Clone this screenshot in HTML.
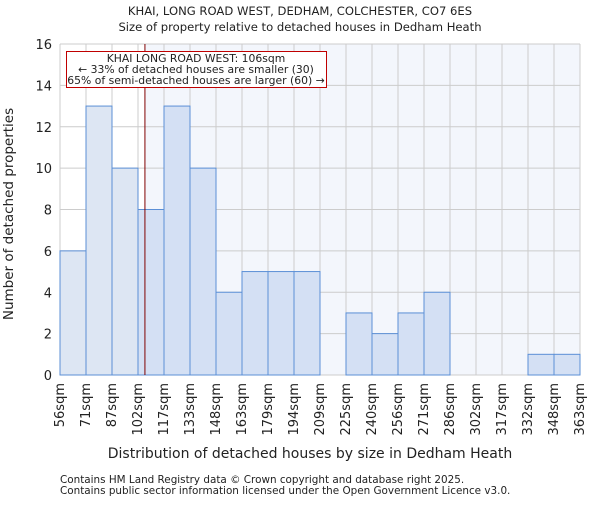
<!DOCTYPE html>
<html><head><meta charset="utf-8"><style>
body{margin:0;background:#fff}
text{font-family:"DejaVu Sans","Liberation Sans",sans-serif;fill:#222}
</style></head><body>
<svg id="c" width="600" height="500" xmlns="http://www.w3.org/2000/svg"></svg>
<script>
const categories=["56sqm","71sqm","87sqm","102sqm","117sqm","133sqm","148sqm","163sqm","179sqm","194sqm","209sqm","225sqm","240sqm","256sqm","271sqm","286sqm","302sqm","317sqm","332sqm","348sqm","363sqm"];
const counts=[6,13,10,8,13,10,4,5,5,5,0,3,2,3,4,0,0,0,1,1];
const yTicks=[0,2,4,6,8,10,12,14,16];
const binEdges=[56,71,87,102,117,133,148,163,179,194,209,225,240,256,271,286,302,317,332,348,363];
const subject=106;
const L=60,R=580,T=44,B=375,yMax=16;
const svg=document.getElementById('c');const NS='http://www.w3.org/2000/svg';
function el(t,a,txt){const e=document.createElementNS(NS,t);for(const k in a)e.setAttribute(k,a[k]);if(txt!=null)e.textContent=txt;svg.appendChild(e);return e;}
const n=counts.length,bw=(R-L)/n;
const x=i=>L+i*bw, y=v=>B-(B-T)*v/yMax;
function xv(v){for(let i=0;i<binEdges.length-1;i++){if(v<=binEdges[i+1])return x(i)+bw*(v-binEdges[i])/(binEdges[i+1]-binEdges[i]);}return R;}
const sx=xv(subject);
let e;
e=el('rect',{x:L,y:T,width:sx-L,height:B-T,fill:'#ffffff'});
e=el('rect',{x:sx,y:T,width:R-sx,height:B-T,fill:'#f3f6fc'});
yTicks.forEach(v=>{e=el('line',{x1:L,x2:R,y1:y(v),y2:y(v),stroke:'#cccccc'});
e=el('text',{x:L-8,y:y(v)+5,'text-anchor':'end','font-size':13},v);});
categories.forEach((c,i)=>{e=el('line',{x1:x(i),x2:x(i),y1:T,y2:B,stroke:'#cccccc'});
e=el('text',{transform:`translate(${x(i)+4},${B+8}) rotate(-90)`,'text-anchor':'end','font-size':13},c);});
counts.forEach((v,i)=>{if(!v)return;const left=x(i)+bw<=sx+1;
e=el('rect',{x:x(i),y:y(v),width:bw,height:B-y(v),fill:left?'#dde6f3':'#d4e0f4',stroke:'#5b8fd6','stroke-width':1});});
e=el('line',{x1:sx,x2:sx,y1:T,y2:B,stroke:'#800000','stroke-width':1});
e=el('rect',{x:66.5,y:51.5,width:260,height:36,fill:'#fff',stroke:'#c00000'});
[["KHAI LONG ROAD WEST: 106sqm",62],["← 33% of detached houses are smaller (30)",73],["65% of semi-detached houses are larger (60) →",84]].forEach(([t,yy])=>{e=el('text',{x:196,y:yy,'text-anchor':'middle','font-size':10.8},t);});
e=el('text',{x:300,y:15,'text-anchor':'middle','font-size':11.6},'KHAI, LONG ROAD WEST, DEDHAM, COLCHESTER, CO7 6ES');
e=el('text',{x:300,y:31,'text-anchor':'middle','font-size':11.6},'Size of property relative to detached houses in Dedham Heath');
e=el('text',{x:310,y:458,'text-anchor':'middle','font-size':14},'Distribution of detached houses by size in Dedham Heath');
e=el('text',{transform:'translate(13,214) rotate(-90)','text-anchor':'middle','font-size':13.5},'Number of detached properties');
e=el('text',{x:60,y:483,'font-size':10.4,fill:'#444'},'Contains HM Land Registry data © Crown copyright and database right 2025.');
e=el('text',{x:60,y:494,'font-size':10.4,fill:'#444'},'Contains public sector information licensed under the Open Government Licence v3.0.');
</script></body></html>
